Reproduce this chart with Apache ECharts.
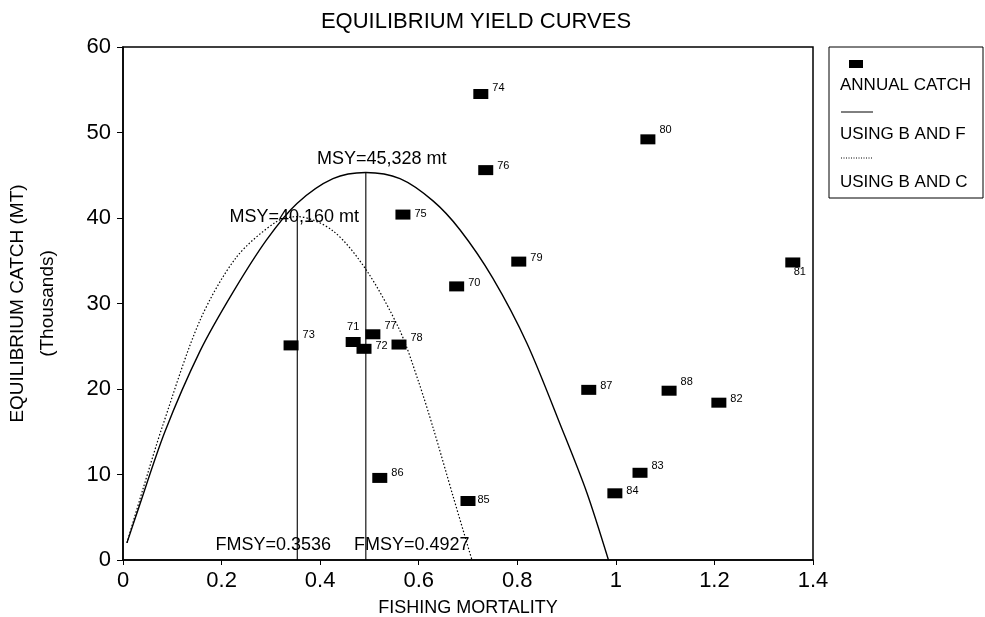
<!DOCTYPE html>
<html>
<head>
<meta charset="utf-8">
<script src="https://cdn.jsdelivr.net/npm/echarts@6/dist/echarts.min.js"></script>
<style>html,body{margin:0;padding:0;background:#fff}#c{width:985px;height:617px}</style>
</head>
<body>
<div id="c"></div>
<script>
// ---- data ----
const years = ['70','71','72','73','74','75','76','77','78','79','80','81','82','83','84','85','86','87','88'];
const fishingMortality = [0.677,0.467,0.489,0.341,0.726,0.568,0.736,0.507,0.560,0.803,1.065,1.359,1.209,1.049,0.998,0.700,0.521,0.945,1.108];
const annualCatch = [32.0,25.5,24.7,25.1,54.5,40.4,45.6,26.4,25.2,34.9,49.2,34.8,18.4,10.2,7.8,6.9,9.6,19.9,19.8];

const curveBF_F = [0.008,0.030,0.085,0.156,0.223,0.292,0.353,0.426,0.4927,0.562,0.629,0.684,0.750,0.820,0.891,0.941,0.985];
const curveBF_Y = [2.0,5.8,15.0,24.4,31.3,37.5,41.7,44.6,45.33,44.6,42.0,38.6,33.0,25.3,15.3,7.9,0.0];

const curveBC_F = [0.008,0.040,0.081,0.156,0.230,0.312,0.3536,0.426,0.495,0.562,0.600,0.629,0.670,0.708];
const curveBC_Y = [2.0,8.2,15.8,28.0,35.4,39.6,40.16,38.5,33.8,26.8,20.8,15.5,7.4,0.0];

const fmsyValues = [0.3536, 0.4927];
const msyValues = [40.16, 45.328];
const msyLabels = ['MSY=40,160 mt', 'MSY=45,328 mt'];
const fmsyLabels = ['FMSY=0.3536', 'FMSY=0.4927'];

const xTicks = [0, 0.2, 0.4, 0.6, 0.8, 1, 1.2, 1.4];
const yTicks = [0, 10, 20, 30, 40, 50, 60];

// ---- styles ----
const FONT = "'Liberation Sans', Arial, Helvetica, sans-serif";
const labelOffsetsByYear = {
  '70':[0,-3],'72':[0,-3],'73':[0,-10],'74':[0,-6],'75':[0,-1],'76':[0,-4],'77':[0,-8],
  '78':[0,-7],'79':[0,-4],'80':[0,-9],'82':[0,-4],'83':[0,-7],'84':[0,-2],'85':[-2,-1],
  '86':[0,-5],'87':[0,-4],'88':[0,-9]
};

const pointData = years.map((y, i) => {
  const item = { name: y, value: [fishingMortality[i], annualCatch[i]] };
  if (y === '71') {
    item.label = { position: 'top', distance: 2, offset: [0, -3] };
  } else if (y === '81') {
    item.label = { position: 'inside', offset: [7, 10] };
  } else {
    item.label = { position: 'right', distance: 4, offset: labelOffsetsByYear[y] || [0, -5] };
  }
  return item;
});

const bfData = curveBF_F.map((f, i) => [f, curveBF_Y[i]]);
const bcData = curveBC_F.map((f, i) => [f, curveBC_Y[i]]);

const vLines = fmsyValues.map((f, i) => ({
  type: 'line', silent: true, symbol: 'none', animation: false,
  lineStyle: { color: '#000', width: 1.1, opacity: 1 },
  data: [[f, 0], [f, msyValues[i]]], z: 3
}));

const annotationStyle = [
  { msy: [-3, 0], fmsy: [-24, -15] },
  { msy: [16, -13], fmsy: [46, -15] }
];

const annotData = [];
fmsyValues.forEach((f, i) => {
  annotData.push({ value: [f, msyValues[i]], label: { formatter: msyLabels[i], position: 'inside', offset: annotationStyle[i].msy } });
  annotData.push({ value: [f, 0], label: { formatter: fmsyLabels[i], position: 'inside', offset: annotationStyle[i].fmsy } });
});

const chart = echarts.init(document.getElementById('c'), null, { renderer: 'canvas' });
chart.setOption({
  animation: false,
  backgroundColor: '#fff',
  textStyle: { fontFamily: FONT, color: '#000' },
  title: {
    text: 'EQUILIBRIUM YIELD CURVES',
    left: 471, top: 6, textAlign: 'center',
    textStyle: { fontFamily: FONT, fontSize: 22, fontWeight: 'normal', color: '#000' }
  },
  grid: { left: 123, right: 172, top: 47, bottom: 57, containLabel: false, outerBoundsMode: 'none',
          show: true, borderColor: '#000', borderWidth: 1.5, backgroundColor: 'transparent' },
  xAxis: {
    type: 'value', min: xTicks[0], max: xTicks[xTicks.length - 1], interval: 0.2,
    name: 'FISHING MORTALITY', nameLocation: 'middle', nameGap: 39,
    nameTextStyle: { fontFamily: FONT, fontSize: 18, color: '#000' },
    axisLine: { lineStyle: { color: '#000', width: 1.5 } },
    axisTick: { length: 5, lineStyle: { color: '#000' } },
    axisLabel: { fontFamily: FONT, fontSize: 22, color: '#000', margin: 10 },
    splitLine: { show: false }
  },
  yAxis: {
    type: 'value', min: yTicks[0], max: yTicks[yTicks.length - 1], interval: 10,
    name: 'EQUILIBRIUM CATCH (MT)\n(Thousands)', nameLocation: 'middle', nameRotate: 90, nameGap: 60,
    nameTextStyle: { fontFamily: FONT, fontSize: 19, color: '#000', lineHeight: 30 },
    axisLine: { lineStyle: { color: '#000', width: 1.5 } },
    axisTick: { length: 6, lineStyle: { color: '#000' } },
    axisLabel: { fontFamily: FONT, fontSize: 22, color: '#000', margin: 12 },
    splitLine: { show: false }
  },
  graphic: [
    { type: 'rect', shape: { x: 829, y: 47, width: 154, height: 151 }, style: { fill: '#fff', stroke: '#000', lineWidth: 1 } },
    { type: 'rect', shape: { x: 849, y: 60, width: 14, height: 8 }, style: { fill: '#000' } },
    { type: 'text', x: 840, y: 85, style: { text: 'ANNUAL CATCH', font: '17px ' + FONT, fill: '#000', verticalAlign: 'middle' } },
    { type: 'line', shape: { x1: 841, y1: 112, x2: 873, y2: 112 }, style: { stroke: '#000', lineWidth: 1 } },
    { type: 'text', x: 840, y: 134, style: { text: 'USING B AND F', font: '17px ' + FONT, fill: '#000', verticalAlign: 'middle' } },
    { type: 'line', shape: { x1: 841, y1: 158, x2: 873, y2: 158 }, style: { stroke: '#000', lineWidth: 1, lineDash: [1, 1.5] } },
    { type: 'text', x: 840, y: 182, style: { text: 'USING B AND C', font: '17px ' + FONT, fill: '#000', verticalAlign: 'middle' } }
  ],
  series: [
    {
      name: 'USING B AND F', type: 'line', data: bfData, smooth: 0.3, symbol: 'none',
      lineStyle: { color: '#000', width: 1.4 }, z: 3
    },
    {
      name: 'USING B AND C', type: 'line', data: bcData, smooth: 0.3, symbol: 'none',
      lineStyle: { color: '#000', width: 1.2, type: [1.5, 2] }, z: 3
    },
    ...vLines,
    {
      name: 'ANNUAL CATCH', type: 'scatter', data: pointData,
      symbol: 'rect', symbolSize: [15, 10],
      itemStyle: { color: '#000', opacity: 1 },
      label: { show: true, formatter: '{b}', fontFamily: FONT, fontSize: 11, color: '#000' },
      z: 5
    },
    {
      name: 'annotations', type: 'scatter', data: annotData, symbolSize: 0, silent: true,
      itemStyle: { opacity: 1 },
      label: { show: true, fontFamily: FONT, fontSize: 18, color: '#000', opacity: 1 }, z: 6
    }
  ]
});
</script>
</body>
</html>
